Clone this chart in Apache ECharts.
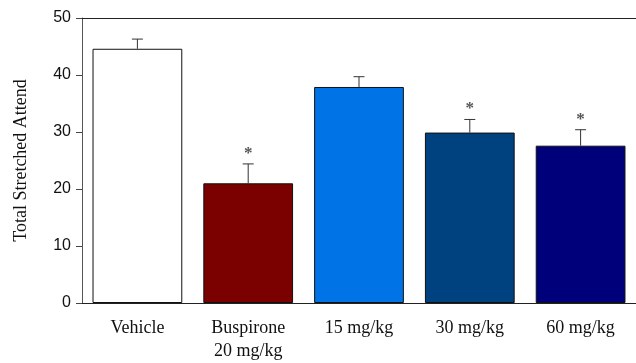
<!DOCTYPE html>
<html>
<head>
<meta charset="utf-8">
<script src="https://cdn.jsdelivr.net/npm/echarts@6/dist/echarts.min.js"></script>
<style>
  html, body { margin: 0; padding: 0; background: #fff; }
  #chart { width: 636px; height: 363px; }
</style>
</head>
<body>
<div id="chart"></div>
<script>
// values
const categories = ['Vehicle', 'Buspirone\n20 mg/kg', '15 mg/kg', '30 mg/kg', '60 mg/kg'];
const means = [44.6, 21.0, 37.9, 29.9, 27.6];
const errors = [1.7, 3.4, 1.8, 2.3, 2.8];
const significant = [false, true, false, true, true];
const barColors = ['#ffffff', '#7b0000', '#0073e6', '#00417f', '#00007b'];

const yMin = 0, yMax = 50, yStep = 10;

var myChart = echarts.init(document.getElementById('chart'));

var errData = means.map(function (m, i) { return [i, m, m + errors[i], significant[i] ? 1 : 0]; });

var option = {
  animation: false,
  grid: { left: 82, right: 0, top: 18, bottom: 59 },
  xAxis: [{
    type: 'category',
    data: categories,
    axisLine: { lineStyle: { color: '#222', width: 1 } },
    axisTick: { alignWithLabel: true, length: 5, lineStyle: { color: '#444' } },
    axisLabel: {
      color: '#111',
      fontFamily: 'Liberation Serif',
      fontSize: 18,
      lineHeight: 23,
      margin: 14
    }
  }, {
    type: 'category',
    position: 'top',
    data: categories,
    axisLine: { lineStyle: { color: '#222', width: 1 } },
    axisTick: { show: false },
    axisLabel: { show: false }
  }],
  yAxis: {
    type: 'value',
    min: yMin,
    max: yMax,
    interval: yStep,
    name: 'Total Stretched Attend',
    nameLocation: 'middle',
    nameGap: 52,
    nameTextStyle: { fontFamily: 'Liberation Serif', fontSize: 18, color: '#111' },
    axisLine: { show: true, lineStyle: { color: '#555' } },
    axisTick: { show: true, length: 6, lineStyle: { color: '#444' } },
    axisLabel: { color: '#111', fontFamily: 'Liberation Sans', fontSize: 16, margin: 11 },
    splitLine: { show: false }
  },
  series: [{
    type: 'bar',
    barWidth: '81%',
    data: means.map(function (v, i) {
      return { value: v, itemStyle: { color: barColors[i] } };
    }),
    itemStyle: { borderColor: '#111', borderWidth: 1 }
  }, {
    type: 'custom',
    data: errData,
    z: 5,
    renderItem: function (params, api) {
      var x = api.value(0);
      var lo = api.coord([x, api.value(1)]);
      var hi = api.coord([x, api.value(2)]);
      var half = 5.5;
      var children = [{
        type: 'line',
        shape: { x1: lo[0], y1: lo[1], x2: hi[0], y2: hi[1] },
        style: { stroke: '#333', lineWidth: 1 }
      }, {
        type: 'line',
        shape: { x1: hi[0] - half, y1: hi[1], x2: hi[0] + half, y2: hi[1] },
        style: { stroke: '#333', lineWidth: 1 }
      }];
      if (api.value(3)) {
        children.push({
          type: 'text',
          style: {
            text: '*',
            x: hi[0],
            y: hi[1] - 2,
            align: 'center',
            verticalAlign: 'bottom',
            fill: '#555',
            font: 'bold 17px "Liberation Serif"'
          }
        });
      }
      return { type: 'group', children: children };
    }
  }]
};

myChart.setOption(option);
window.addEventListener('resize', function () {
  myChart.resize();
});
</script>
</body>
</html>
